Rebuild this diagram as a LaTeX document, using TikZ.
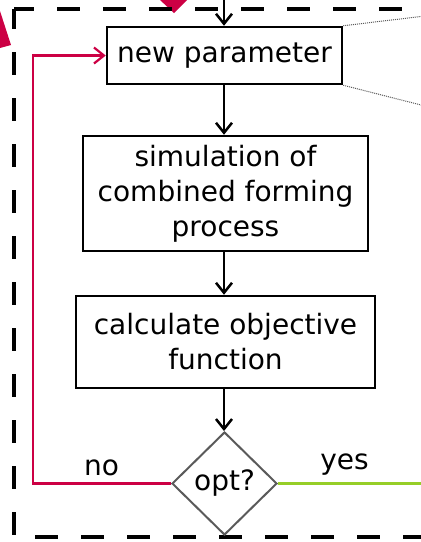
\documentclass[tikz,border=0pt]{standalone}
\usepackage{fontspec}
\setmainfont{DejaVu Sans}
\usetikzlibrary{arrows.meta,shapes.geometric}
\definecolor{crim}{RGB}{204,0,68}
\definecolor{ygreen}{RGB}{150,206,40}
\definecolor{dgray}{RGB}{90,90,90}
\begin{document}
\begin{tikzpicture}[x=1pt,y=-1pt,
  txt/.style={font=\fontsize{28}{35}\selectfont, align=center, inner sep=0pt},
  box/.style={txt, draw=black, line width=2.5pt},
  flow/.style={line width=2.5pt, -{Straight Barb[length=10pt,width=16pt]}},
  noflow/.style={crim, line width=2.2pt, -{Straight Barb[length=10pt,width=16pt]}},
  frame/.style={line width=4pt, dash pattern=on 23pt off 23pt, dash phase=3pt},
  hint/.style={dgray, line width=1pt, densely dotted}]
\useasboundingbox (0,0) rectangle (421,542);
% partial red arrowheads from outside
\fill[crim] (0,11) -- (11,45) -- (0,48) -- cycle;
\fill[crim] (160,0) -- (187,0) -- (174,13) -- cycle;
% dashed frame
\draw[frame] (14,9) -- (440,9);
\draw[frame] (14,9) -- (14,537) -- (440,537);
% nodes
\node[box, minimum width=235pt, minimum height=57pt] (np) at (224.5,55.5) {new parameter};
\node[box, minimum width=285pt, minimum height=115pt] (sim) at (225.5,193.5) {simulation of\\combined forming\\process};
\node[box, minimum width=299pt, minimum height=92pt] (calc) at (225.5,342) {calculate objective\\function};
\node[txt, diamond, draw=dgray, line width=2pt, aspect=1, minimum width=105pt, minimum height=103pt] (opt) at (224.5,483.5) {opt?};
\coordinate (topin) at (224,-2);
\coordinate (redx) at (33,0);
\coordinate (gend) at (430,483.5);
\coordinate (dotA) at (425,16);
\coordinate (dotB) at (425,106);
% connectors
\draw[flow] (topin) -- (topin |- np.north);
\draw[flow] (np.south -| topin) -- (topin |- sim.north);
\draw[flow] (sim.south -| topin) -- (topin |- calc.north);
\draw[flow] (calc.south -| topin) -- (topin |- opt.north);
\draw[noflow] (opt.west) -- (opt.west -| redx) |- (np.west);
\draw[ygreen, line width=2.5pt] (opt.east) -- (gend);
\draw[hint] (np.north east) -- (dotA);
\draw[hint] (np.south east) -- (dotB);
% labels
\node[txt, anchor=base] (nolbl) at (101.5,475) {no};
\node[txt, anchor=base] (yeslbl) at (344.5,469) {yes};
\end{tikzpicture}
\end{document}
